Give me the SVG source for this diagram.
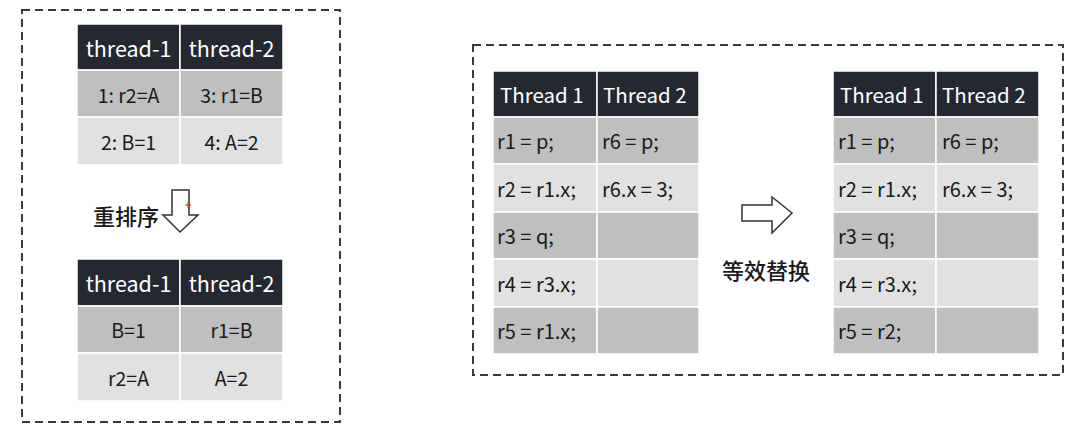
<svg xmlns="http://www.w3.org/2000/svg" width="1091" height="443" viewBox="0 0 1091 443">
<style>
.frame{fill:none;stroke:#3a3a3a;stroke-width:2;stroke-dasharray:8 5}
.hd{fill:#232831;stroke:#ffffff;stroke-width:1.5}
.dk{fill:#bfbfbf;stroke:#ffffff;stroke-width:1.5}
.lt{fill:#e1e1e1;stroke:#ffffff;stroke-width:1.5}
text{font-family:"Noto Sans CJK SC","Noto Sans",sans-serif;dominant-baseline:central}
.ht{fill:#ffffff;font-size:20.5px}
.hl{font-size:21.5px}
.ct{fill:#1a1a1a;font-size:20px}
.cl{font-size:19.5px}
.c{text-anchor:middle}
.lbl{fill:#1a1a1a;font-size:22px;font-weight:500}
.arrow{fill:#ffffff;stroke:#333333;stroke-width:1.5;stroke-linejoin:miter}
</style>
<rect class="frame" x="22" y="10" width="318" height="412"/>
<rect class="frame" x="473" y="45" width="590" height="330"/>

<g id="table-before">
<rect class="hd" x="77" y="24" width="103" height="46"/>
<rect class="hd" x="180" y="24" width="103" height="46"/>
<rect class="dk" x="77" y="70" width="103" height="47"/>
<rect class="dk" x="180" y="70" width="103" height="47"/>
<rect class="lt" x="77" y="117" width="103" height="48"/>
<rect class="lt" x="180" y="117" width="103" height="48"/>
<text class="ht hl c" x="128.5" y="47">thread-1</text>
<text class="ht hl c" x="231.5" y="47">thread-2</text>
<text class="ct cl c" x="128.5" y="94">1: r2=A</text>
<text class="ct cl c" x="231.5" y="94">3: r1=B</text>
<text class="ct cl c" x="128.5" y="141">2: B=1</text>
<text class="ct cl c" x="231.5" y="141">4: A=2</text>
</g>

<g id="table-after">
<rect class="hd" x="77" y="259" width="103" height="47"/>
<rect class="hd" x="180" y="259" width="103" height="47"/>
<rect class="dk" x="77" y="306" width="103" height="47"/>
<rect class="dk" x="180" y="306" width="103" height="47"/>
<rect class="lt" x="77" y="353" width="103" height="48"/>
<rect class="lt" x="180" y="353" width="103" height="48"/>
<text class="ht hl c" x="128.5" y="282.5">thread-1</text>
<text class="ht hl c" x="231.5" y="282.5">thread-2</text>
<text class="ct cl c" x="128.5" y="329.5">B=1</text>
<text class="ct cl c" x="231.5" y="329.5">r1=B</text>
<text class="ct cl c" x="128.5" y="377">r2=A</text>
<text class="ct cl c" x="231.5" y="377">A=2</text>
</g>

<g id="reorder">
<text class="lbl" x="93" y="215">重排序</text>
<path class="arrow" d="M172,190 H189 V215 H198 L180,232 L163,215 H172 Z"/>
<path d="M185,205 H191 M188,202 V208" stroke="#e02020" stroke-width="1"/>
</g>

<g id="table-left">
<rect class="hd" x="493" y="71" width="104" height="46"/>
<rect class="hd" x="597" y="71" width="102" height="46"/>
<rect class="dk" x="493" y="117" width="104" height="47"/>
<rect class="dk" x="597" y="117" width="102" height="47"/>
<rect class="lt" x="493" y="164" width="104" height="48"/>
<rect class="lt" x="597" y="164" width="102" height="48"/>
<rect class="dk" x="493" y="212" width="104" height="47"/>
<rect class="dk" x="597" y="212" width="102" height="47"/>
<rect class="lt" x="493" y="259" width="104" height="48"/>
<rect class="lt" x="597" y="259" width="102" height="48"/>
<rect class="dk" x="493" y="307" width="104" height="47"/>
<rect class="dk" x="597" y="307" width="102" height="47"/>
<text class="ht" x="500" y="94">Thread 1</text>
<text class="ht" x="603" y="94">Thread 2</text>
<text class="ct" x="497" y="140.5">r1 = p;</text>
<text class="ct" x="602" y="140.5">r6 = p;</text>
<text class="ct" x="497" y="188">r2 = r1.x;</text>
<text class="ct" x="602" y="188">r6.x = 3;</text>
<text class="ct" x="497" y="235.5">r3 = q;</text>
<text class="ct" x="497" y="283">r4 = r3.x;</text>
<text class="ct" x="497" y="330.5">r5 = r1.x;</text>
</g>

<g id="equivalent">
<path class="arrow" d="M742,205 H772 V197 L792,213 L772,233 V221 H742 Z"/>
<text class="lbl" x="766" y="269" text-anchor="middle">等效替换</text>
</g>

<g id="table-right">
<rect class="hd" x="833" y="71" width="103" height="46"/>
<rect class="hd" x="936" y="71" width="103" height="46"/>
<rect class="dk" x="833" y="117" width="103" height="47"/>
<rect class="dk" x="936" y="117" width="103" height="47"/>
<rect class="lt" x="833" y="164" width="103" height="48"/>
<rect class="lt" x="936" y="164" width="103" height="48"/>
<rect class="dk" x="833" y="212" width="103" height="47"/>
<rect class="dk" x="936" y="212" width="103" height="47"/>
<rect class="lt" x="833" y="259" width="103" height="48"/>
<rect class="lt" x="936" y="259" width="103" height="48"/>
<rect class="dk" x="833" y="307" width="103" height="47"/>
<rect class="dk" x="936" y="307" width="103" height="47"/>
<text class="ht" x="840" y="94">Thread 1</text>
<text class="ht" x="942" y="94">Thread 2</text>
<text class="ct" x="838" y="140.5">r1 = p;</text>
<text class="ct" x="942" y="140.5">r6 = p;</text>
<text class="ct" x="838" y="188">r2 = r1.x;</text>
<text class="ct" x="942" y="188">r6.x = 3;</text>
<text class="ct" x="838" y="235.5">r3 = q;</text>
<text class="ct" x="838" y="283">r4 = r3.x;</text>
<text class="ct" x="838" y="330.5">r5 = r2;</text>
</g>
</svg>
